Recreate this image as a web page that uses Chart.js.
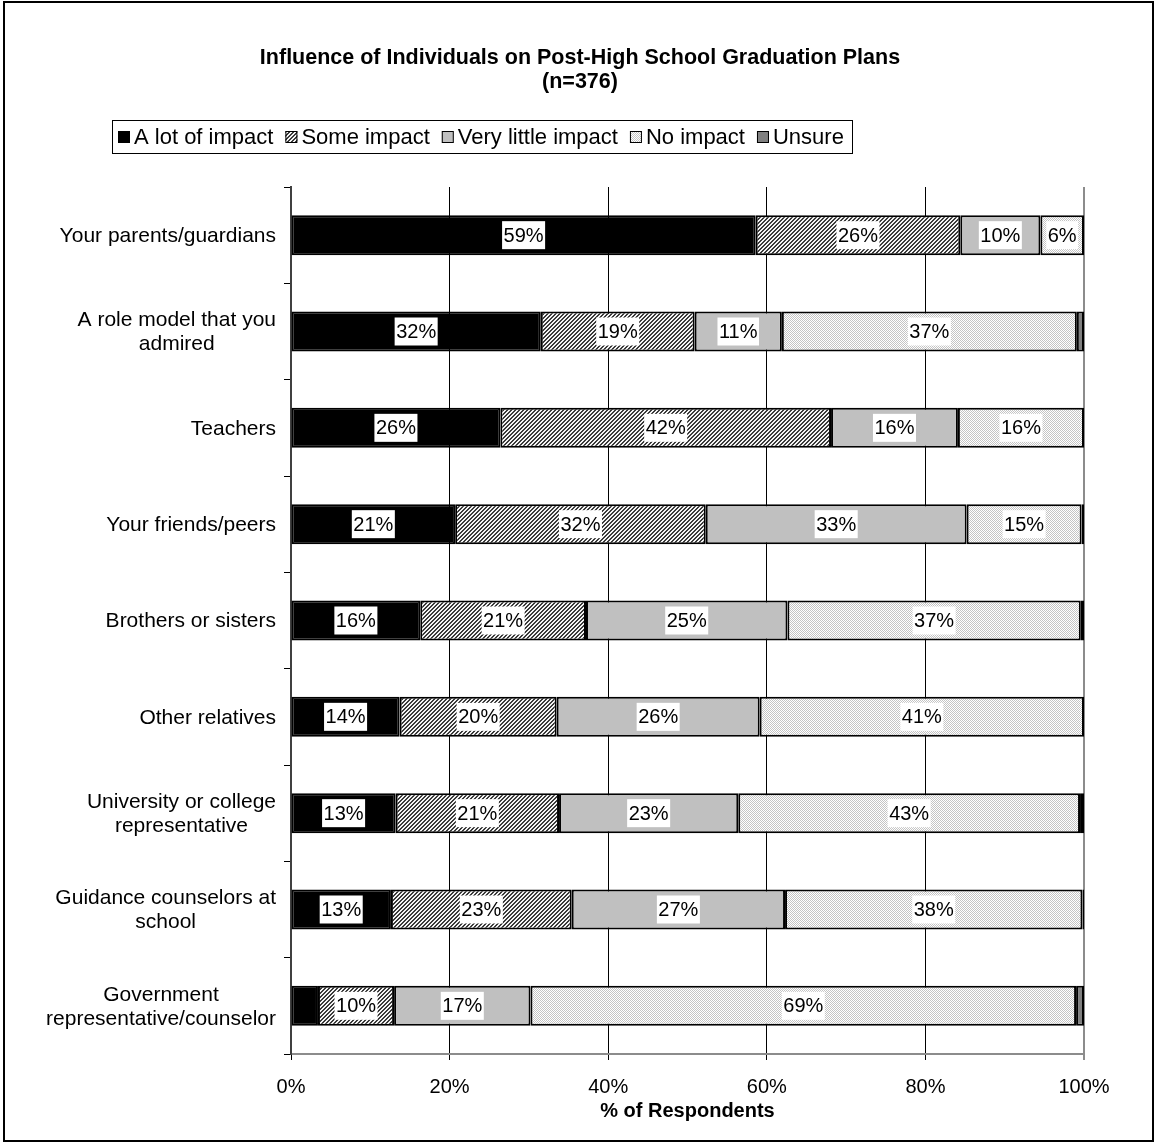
<!DOCTYPE html>
<html>
<head>
<meta charset="utf-8">
<script src="https://cdn.jsdelivr.net/npm/chart.js@4.4.1/dist/chart.umd.min.js"></script>
<style>
html,body{margin:0;padding:0;background:#fff;}
#wrap{position:relative;width:1156px;height:1145px;}
#frame{position:absolute;left:3px;top:1px;width:1151px;height:1141px;border:2px solid #000;box-sizing:border-box;pointer-events:none;}
</style>
</head>
<body>
<div id="wrap"><canvas id="c" width="1156" height="1145"></canvas><div id="frame"></div></div>
<script>
const categories = [
  'Your parents/guardians',
  ['A role model that you', 'admired'],
  'Teachers',
  'Your friends/peers',
  'Brothers or sisters',
  'Other relatives',
  ['University or college', 'representative'],
  ['Guidance counselors at', 'school'],
  ['Government', 'representative/counselor']
];
const seriesNames = ['A lot of impact', 'Some impact', 'Very little impact', 'No impact', 'Unsure'];
const aLotOfImpact     = [58.6, 31.5, 26.4, 20.7, 16.3, 13.7, 13.2, 12.6, 3.4];
const someImpact       = [25.8, 19.4, 41.7, 31.6, 20.9, 19.8, 20.6, 22.8, 9.6];
const veryLittleImpact = [10.1, 11.0, 16.0, 32.9, 25.4, 25.6, 22.6, 26.9, 17.2];
const noImpact         = [5.5, 37.2, 15.9, 14.5, 37.0, 40.9, 43.1, 37.5, 68.8];
const unsure           = [0, 0.9, 0, 0.3, 0.4, 0, 0.5, 0.4, 1.0];
const xTicks = [0, 20, 40, 60, 80, 100];

const FONT = "'Liberation Sans', Arial, sans-serif";

function makePattern(size, painter) {
  const c = document.createElement('canvas');
  c.width = size; c.height = size;
  const g = c.getContext('2d');
  painter(g);
  return g.createPattern(c, 'repeat');
}
const hatch = makePattern(4, g => {
  g.fillStyle = '#f4f4f4'; g.fillRect(0, 0, 4, 4);
  g.fillStyle = '#3a3a3a';
  for (let x = 0; x < 4; x++) for (let y = 0; y < 4; y++) {
    const k = (x + y) % 4;
    if (k === 0 || k === 1) g.fillRect(x, y, 1, 1);
  }
});
const dots = makePattern(2, g => {
  g.fillStyle = '#ffffff'; g.fillRect(0, 0, 2, 2);
  g.fillStyle = '#c4c4c4';
  g.fillRect(0, 0, 1, 1); g.fillRect(1, 1, 1, 1);
});

const fills = ['#000000', hatch, '#c0c0c0', dots, '#808080'];
const seriesData = [aLotOfImpact, someImpact, veryLittleImpact, noImpact, unsure];

const datasets = seriesNames.map((name, i) => ({
  label: name,
  data: seriesData[i],
  backgroundColor: fills[i],
  borderColor: '#000000',
  borderWidth: 2,
  borderSkipped: false,
  barPercentage: 0.415,
  categoryPercentage: 1.0
}));

const valueLabels = {
  id: 'valueLabels',
  afterDatasetsDraw(chart) {
    const ctx = chart.ctx;
    ctx.save();
    ctx.font = '20px ' + FONT;
    ctx.textAlign = 'center';
    ctx.textBaseline = 'middle';
    chart.data.datasets.forEach((ds, di) => {
      const meta = chart.getDatasetMeta(di);
      meta.data.forEach((bar, j) => {
        const v = ds.data[j];
        if (v == null || v < 5) return;
        const txt = Math.round(v) + '%';
        const cx = (bar.x + bar.base) / 2;
        const cy = bar.y;
        const w = ctx.measureText(txt).width + 3;
        ctx.fillStyle = '#ffffff';
        ctx.fillRect(cx - w / 2, cy - 14, w, 28);
        ctx.fillStyle = '#000000';
        ctx.fillText(txt, cx, cy + 1);
      });
    });
    ctx.restore();
  }
};

const catLabels = {
  id: 'catLabels',
  afterDraw(chart) {
    const ctx = chart.ctx;
    const ys = chart.scales.y;
    ctx.save();
    ctx.font = '21px ' + FONT;
    ctx.fillStyle = '#000000';
    ctx.textBaseline = 'middle';
    ctx.textAlign = 'center';
    const rightX = chart.chartArea.left - 15;
    categories.forEach((lab, i) => {
      const lines = Array.isArray(lab) ? lab : [lab];
      const widths = lines.map(l => ctx.measureText(l).width);
      const bw = Math.max(...widths);
      const cx = rightX - bw / 2;
      const cy = ys.getPixelForValue(i);
      const lh = 24;
      lines.forEach((l, k) => {
        ctx.fillText(l, cx, cy + (k - (lines.length - 1) / 2) * lh + 1);
      });
    });
    ctx.restore();
  }
};

const legendBox = {
  id: 'legendBox',
  afterDraw(chart) {
    const ctx = chart.ctx;
    const startX = 118, cy = 137, box = 12, gapText = 4, gapItem = 12;
    ctx.save();
    ctx.font = '22px ' + FONT;
    ctx.textBaseline = 'middle';
    ctx.textAlign = 'left';
    let x = startX;
    chart.data.datasets.forEach(ds => {
      ctx.fillStyle = ds.backgroundColor;
      ctx.fillRect(x, cy - box / 2, box, box);
      ctx.strokeStyle = '#000000';
      ctx.lineWidth = 1;
      ctx.strokeRect(x + 0.5, cy - box / 2 + 0.5, box - 1, box - 1);
      ctx.fillStyle = '#000000';
      ctx.fillText(ds.label, x + box + gapText, cy + 1);
      x += box + gapText + ctx.measureText(ds.label).width + gapItem;
    });
    const right = x - gapItem + 8;
    ctx.strokeStyle = '#000000';
    ctx.lineWidth = 1;
    ctx.strokeRect(startX - 6 + 0.5, 120.5, Math.round(right - (startX - 6)), 33);
    ctx.restore();
  }
};

const titleShift = {
  id: 'titleShift',
  afterLayout(chart) {
    const t = chart.titleBlock;
    if (t) { t.left += 28; t.right += 28; }
  }
};

const chart = new Chart(document.getElementById('c'), {
  type: 'bar',
  data: { labels: categories.map(c => Array.isArray(c) ? c.join(' ') : c), datasets },
  options: {
    indexAxis: 'y',
    responsive: false,
    animation: false,
    layout: { padding: { top: 46, left: 20, right: 72, bottom: 22 } },
    plugins: {
      title: {
        display: true,
        text: ['Influence of Individuals on Post-High School Graduation Plans', '(n=376)'],
        font: { family: FONT, size: 21.5, weight: 'bold', lineHeight: 24 / 21.5 },
        color: '#000000',
        padding: { top: 0, bottom: 93 }
      },
      legend: { display: false },
      tooltip: { enabled: false }
    },
    scales: {
      x: {
        stacked: true,
        min: 0,
        max: 100,
        afterBuildTicks(s) { s.ticks = xTicks.map(v => ({ value: v })); },
        afterFit(s) { s.height = 69; },
        ticks: {
          callback: v => v + '%',
          font: { family: FONT, size: 20 },
          color: '#000000',
          padding: 15
        },
        grid: {
          color: c => (c.tick && c.tick.value === 100) ? '#8c8c8c' : '#000000',
          lineWidth: c => (c.tick && c.tick.value === 100) ? 2 : 1,
          tickLength: 6,
          drawTicks: true
        },
        border: { color: '#8c8c8c', width: 2 },
        title: {
          display: true,
          text: '% of Respondents',
          font: { family: FONT, size: 20, weight: 'bold' },
          color: '#000000',
          padding: { top: 0, bottom: 0 }
        }
      },
      y: {
        stacked: true,
        afterFit(s) { s.width = 271; },
        ticks: { display: false },
        grid: {
          drawOnChartArea: false,
          drawTicks: true,
          tickLength: 7,
          color: '#000000',
          offset: true
        },
        border: { color: '#404040', width: 2 }
      }
    }
  },
  plugins: [valueLabels, catLabels, legendBox, titleShift]
});
</script>
</body>
</html>
